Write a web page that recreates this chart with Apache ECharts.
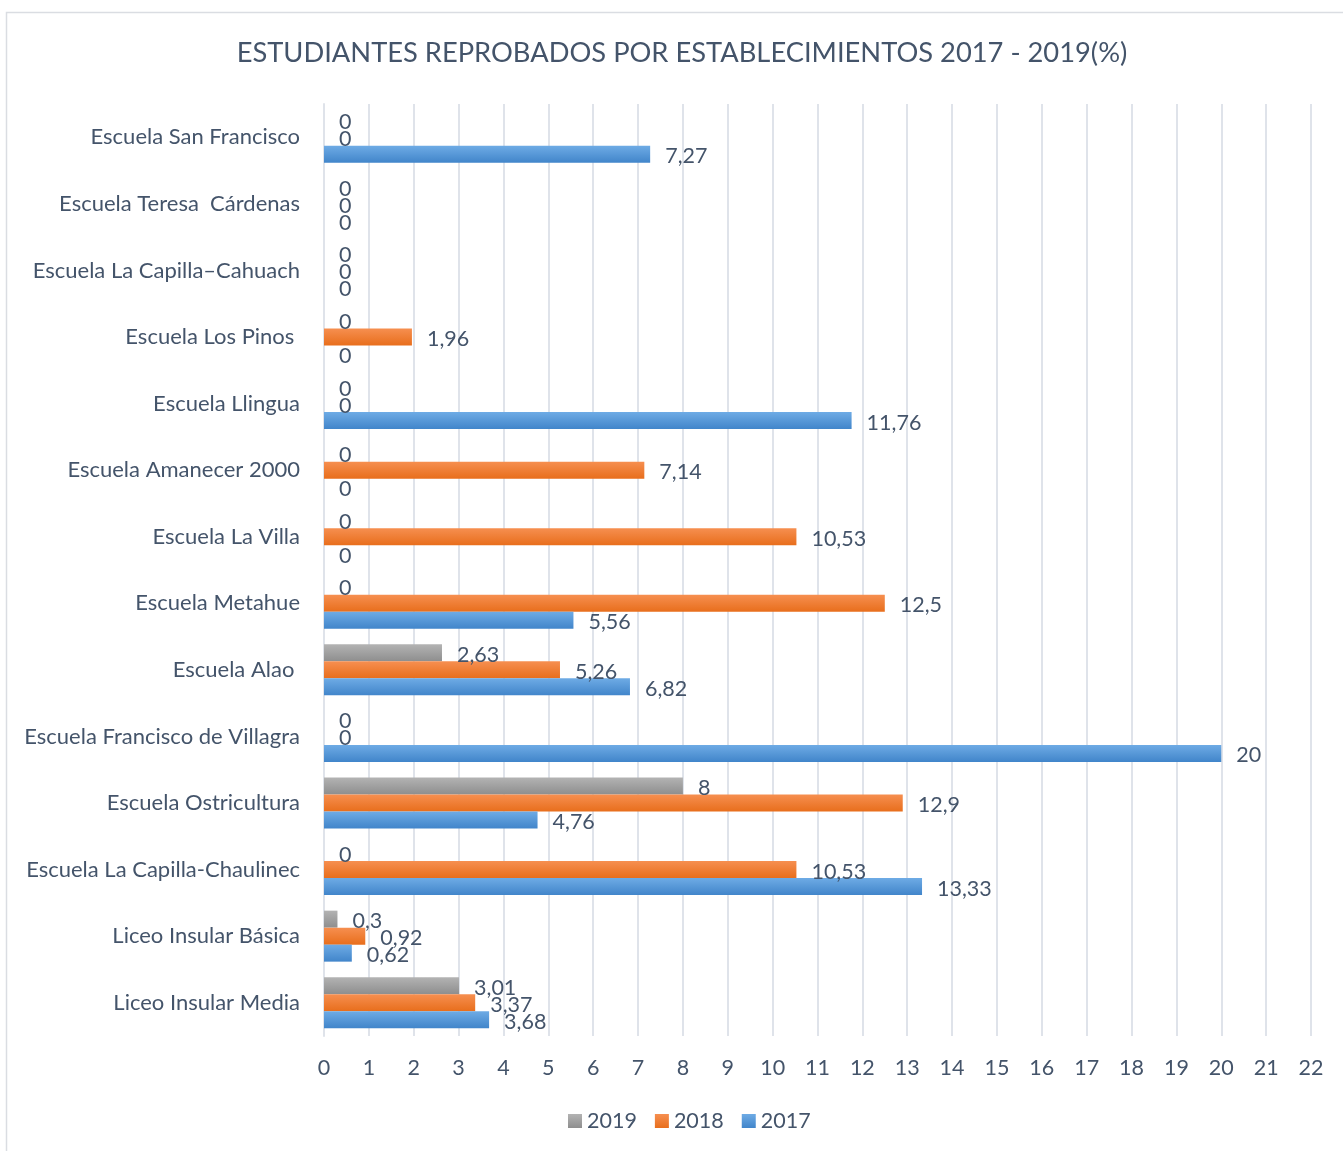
<!DOCTYPE html>
<html>
<head>
<meta charset="utf-8">
<script src="https://cdn.jsdelivr.net/npm/echarts@6/dist/echarts.min.js"></script>
<style>
  html, body { margin: 0; padding: 0; background: #fff; }
  #chart { width: 1343px; height: 1151px; }
</style>
</head>
<body>
<div id="chart"></div>
<script>
const schools = [
  'Escuela San Francisco',
  'Escuela Teresa  Cárdenas',
  'Escuela La Capilla–Cahuach',
  'Escuela Los Pinos ',
  'Escuela Llingua',
  'Escuela Amanecer 2000',
  'Escuela La Villa',
  'Escuela Metahue',
  'Escuela Alao ',
  'Escuela Francisco de Villagra',
  'Escuela Ostricultura',
  'Escuela La Capilla-Chaulinec',
  'Liceo Insular Básica',
  'Liceo Insular Media'
];
const y2019 = [0, 0, 0, 0, 0, 0, 0, 0, 2.63, 0, 8, 0, 0.3, 3.01];
const y2018 = [0, 0, 0, 1.96, 0, 7.14, 10.53, 12.5, 5.26, 0, 12.9, 10.53, 0.92, 3.37];
const y2017 = [7.27, 0, 0, 0, 11.76, 0, 0, 5.56, 6.82, 20, 4.76, 13.33, 0.62, 3.68];

const textColor = '#44546a';
const font = 'Lato';

const chart = echarts.init(document.getElementById('chart'));

function grad(top, bottom) {
  return new echarts.graphic.LinearGradient(0, 0, 0, 1, [
    { offset: 0, color: top },
    { offset: 1, color: bottom }
  ]);
}

function barSeries(name, data, top, bottom) {
  return {
    name: name,
    type: 'bar',
    data: data,
    barWidth: 17,
    barGap: '0%',
    itemStyle: { color: grad(top, bottom) },
    label: {
      show: true,
      position: 'right',
      distance: 15,
      offset: [0, 2],
      color: textColor,
      fontFamily: font,
      fontSize: 21.5,
      formatter: (p) => String(p.value).replace('.', ',')
    }
  };
}

chart.setOption({
  animation: false,
  textStyle: { fontFamily: font },
  title: {
    text: 'ESTUDIANTES REPROBADOS POR ESTABLECIMIENTOS 2017 - 2019(%)',
    left: 677,
    textAlign: 'center',
    top: 35,
    textStyle: { color: textColor, fontSize: 27.3, fontWeight: 'normal', fontFamily: font }
  },
  graphic: [{
    type: 'rect',
    shape: { x: 6.5, y: 12.5, width: 1345, height: 1150 },
    style: { fill: 'none', stroke: '#dadde2', lineWidth: 1.5 },
    silent: true
  }],
  legend: {
    data: ['2019', '2018', '2017'],
    bottom: 14,
    left: 563,
    icon: 'rect',
    itemWidth: 14,
    itemHeight: 14,
    itemGap: 18,
    textStyle: { color: textColor, fontSize: 21.5, fontFamily: font }
  },
  grid: { left: 324, right: 32, top: 104, height: 932 },
  xAxis: {
    type: 'value',
    min: 0,
    max: 22,
    interval: 1,
    axisLine: { show: false },
    axisTick: { show: false },
    axisLabel: { color: textColor, fontSize: 21.5, fontFamily: font, margin: 21 },
    splitLine: { lineStyle: { color: '#dfe3ea', width: 2 } }
  },
  yAxis: {
    type: 'category',
    data: schools,
    inverse: true,
    axisLine: { show: true, lineStyle: { color: '#dfe3ea', width: 2 } },
    axisTick: { show: false },
    axisLabel: { color: textColor, fontSize: 22, fontFamily: font, margin: 24 }
  },
  series: [
    barSeries('2019', y2019, '#b3b3b3', '#8e8e8e'),
    barSeries('2018', y2018, '#f68f50', '#e86e1c'),
    barSeries('2017', y2017, '#6eabe5', '#4185ca')
  ]
});
</script>
</body>
</html>
